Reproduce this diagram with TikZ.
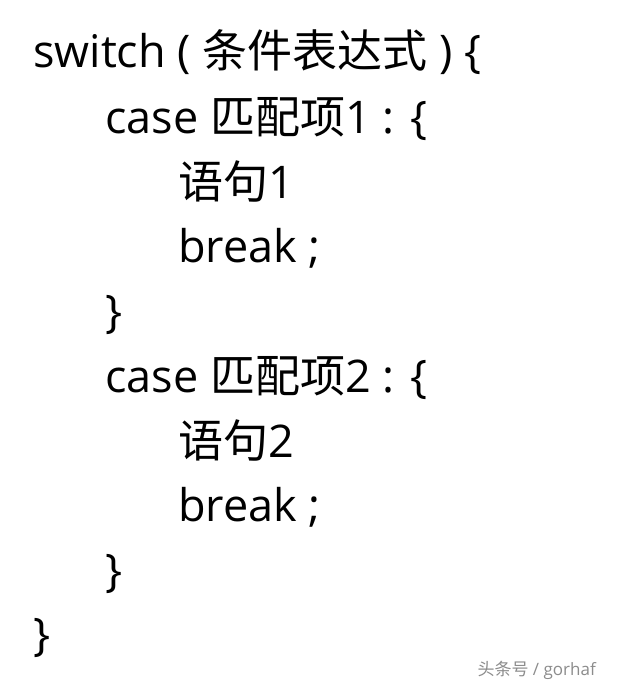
\documentclass[tikz,border=0pt]{standalone}
\usepackage{fontspec}
\setmainfont{Open Sans}
\newfontfamily\cjk{Noto Sans CJK SC}
\begin{document}
\begin{tikzpicture}[x=1pt,y=-1pt,
  codeline/.style={anchor=base west,inner sep=0pt,font=\fontsize{45}{50}\selectfont},
  wmark/.style={anchor=base east,inner sep=0pt,text=black!45,font=\fontsize{17}{20}\selectfont}]
\useasboundingbox[fill=white] (0,0) rectangle (616,698);
\node[codeline] (l1) at (33,68) {switch ( {\cjk 条件表达式} ) \{};
\node[codeline] (l2) at (105,133) {case {\cjk 匹配项}1 : \{};
\node[codeline] (l3) at (178,198) {{\cjk 语句}1};
\node[codeline] (l4) at (178,262) {break ;};
\node[codeline] (l5) at (105,327) {\}};
\node[codeline] (l6) at (105,392) {case {\cjk 匹配项}2 : \{};
\node[codeline] (l7) at (178,457) {{\cjk 语句}2};
\node[codeline] (l8) at (178,521) {break ;};
\node[codeline] (l9) at (105,586) {\}};
\node[codeline] (l10) at (33,650) {\}};
\node[wmark] (wm) at (596,675) {{\cjk 头条号} / gorhaf};
\end{tikzpicture}
\end{document}
